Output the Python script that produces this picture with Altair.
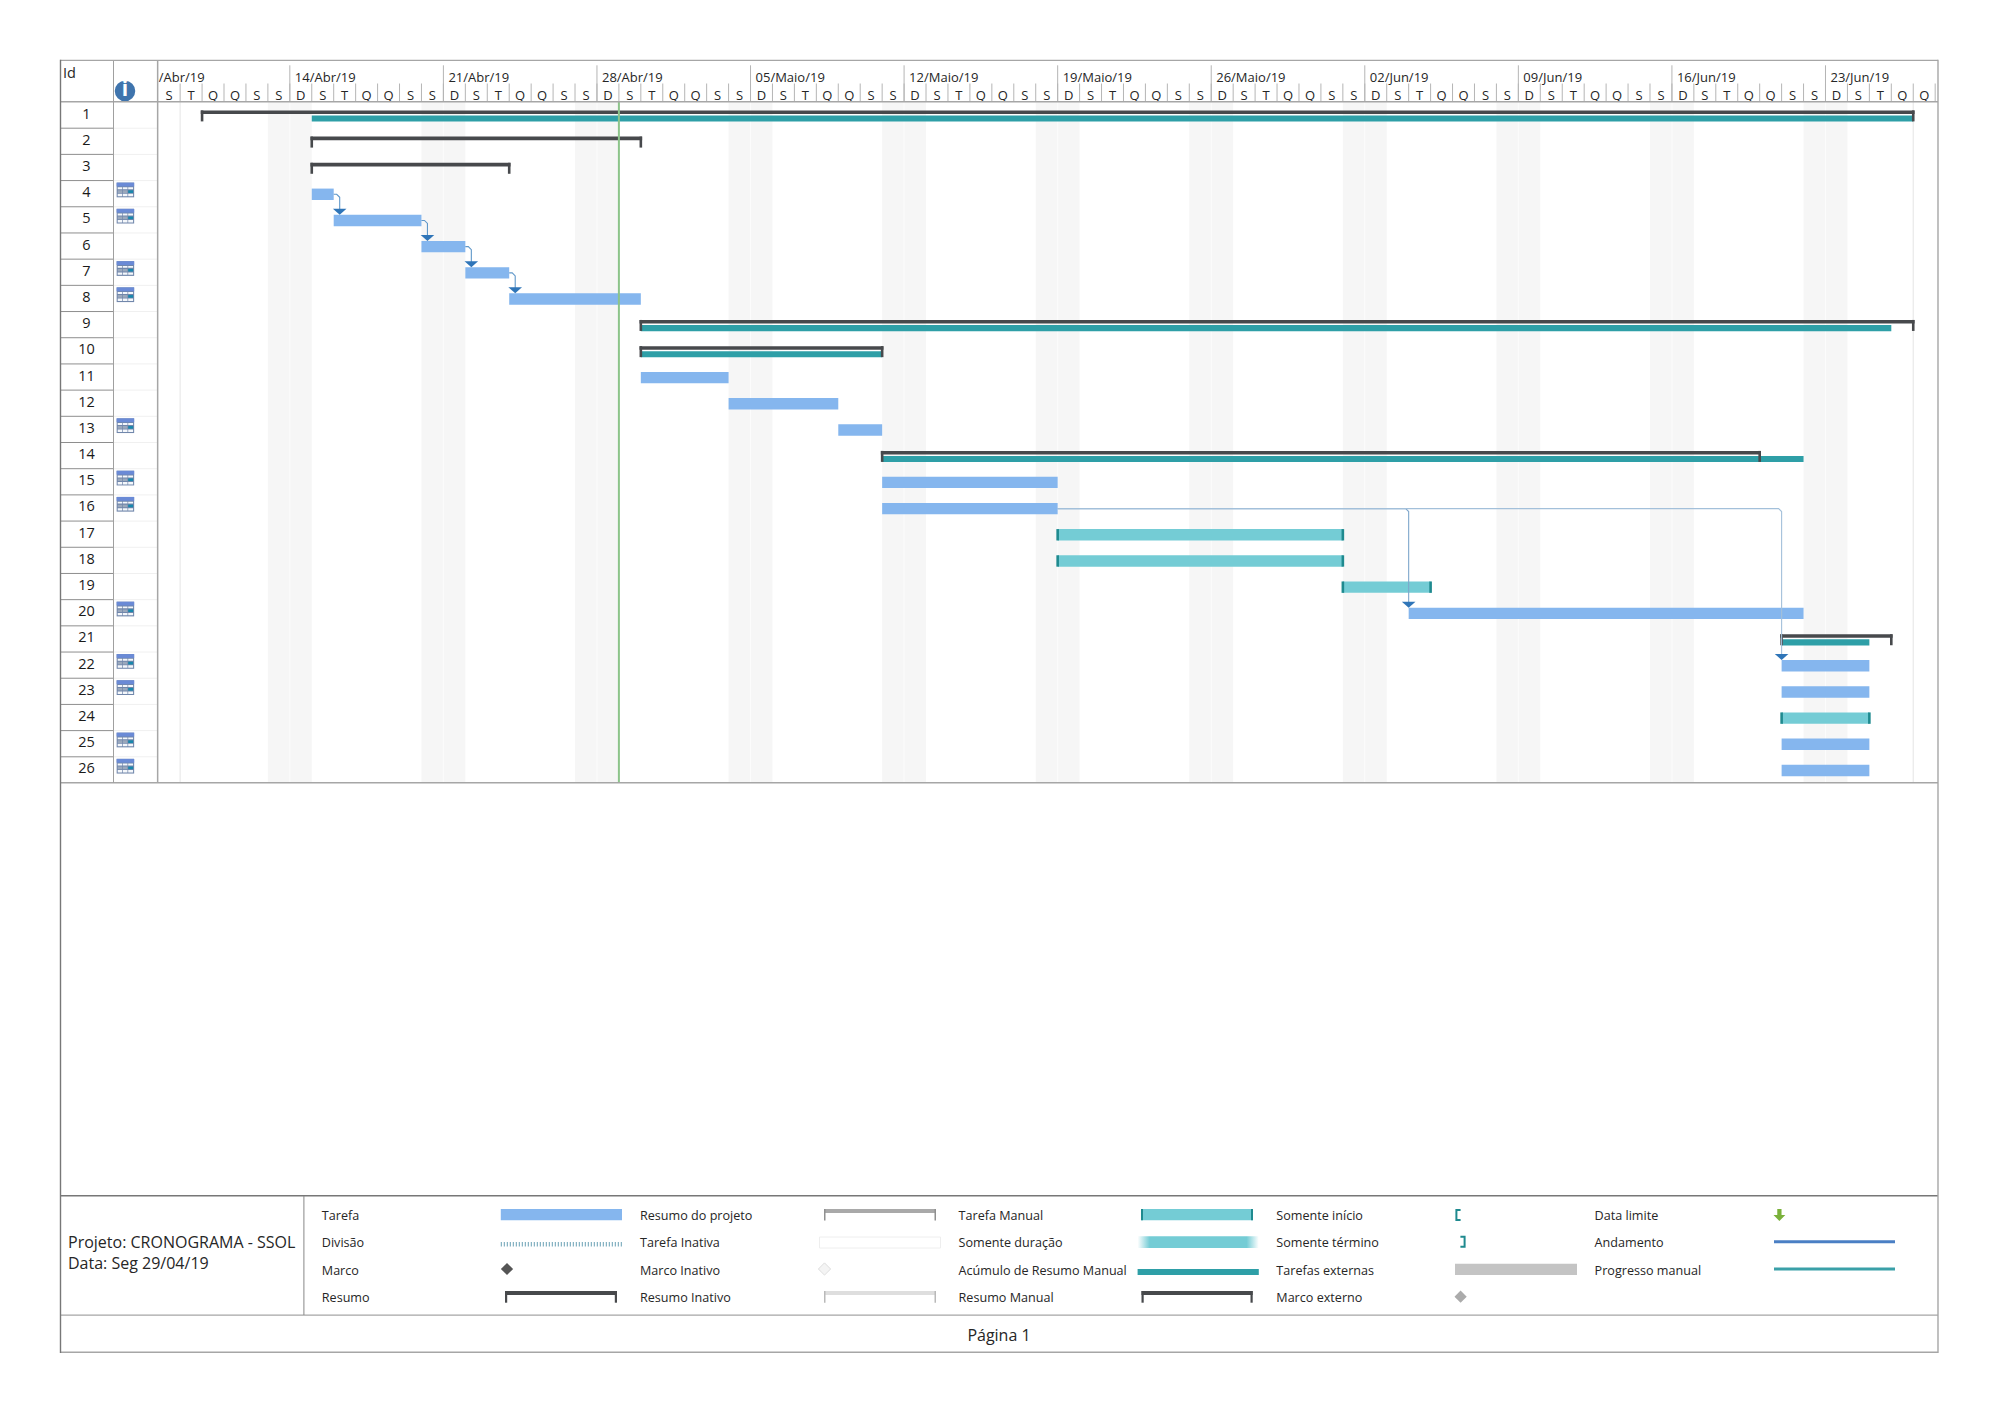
import altair as alt
import pandas as pd

FONT = "Open Sans"
OX, OY = 158.0, 102.0
W, H = 1780, 681
ROW_H = H / 26
DAY_PX = W / 81.1375

TASK, MANUAL, CAP, ROLL, DARK = "#85b6ee", "#74ccd5", "#1f8a8f", "#2e9fa7", "#47494c"
LINE = "#a6a6a6"
TXT = "#262626"

# --- schedule values --------------------------------------------------------
summary_rows = [1, 2, 3, 9, 10, 14, 21]
summary_start = ["2019-04-10", "2019-04-15", "2019-04-15", "2019-04-30", "2019-04-30", "2019-05-11", "2019-06-21"]
summary_end = ["2019-06-27", "2019-04-30", "2019-04-24", "2019-06-27", "2019-05-11", "2019-06-20", "2019-06-26"]

rollup_rows = [1, 9, 10, 14, 21]
rollup_start = ["2019-04-15", "2019-04-30", "2019-04-30", "2019-05-11", "2019-06-21"]
rollup_end = ["2019-06-27", "2019-06-26", "2019-05-11", "2019-06-22", "2019-06-25"]

task_rows = [4, 5, 6, 7, 8, 11, 12, 13, 15, 16, 20, 22, 23, 25, 26]
task_start = ["2019-04-15", "2019-04-16", "2019-04-20", "2019-04-22", "2019-04-24", "2019-04-30", "2019-05-04",
              "2019-05-09", "2019-05-11", "2019-05-11", "2019-06-04", "2019-06-21", "2019-06-21", "2019-06-21", "2019-06-21"]
task_end = ["2019-04-16", "2019-04-20", "2019-04-22", "2019-04-24", "2019-04-30", "2019-05-04", "2019-05-09",
            "2019-05-11", "2019-05-19", "2019-05-19", "2019-06-22", "2019-06-25", "2019-06-25", "2019-06-25", "2019-06-25"]

manual_rows = [17, 18, 19, 24]
manual_start = ["2019-05-19", "2019-05-19", "2019-06-01", "2019-06-21"]
manual_end = ["2019-06-01", "2019-06-01", "2019-06-05", "2019-06-25"]

icon_rows = [4, 5, 7, 8, 13, 15, 16, 20, 22, 23, 25, 26]
row_ids = list(range(1, 27))

# predecessor row, its finish, successor row, successor start, elbow offset in px
link_from = [4, 5, 6, 7, 16, 16]
link_finish = ["2019-04-16", "2019-04-20", "2019-04-22", "2019-04-24", "2019-05-19", "2019-05-19"]
link_to = [5, 6, 7, 8, 20, 22]
link_start = ["2019-04-16", "2019-04-20", "2019-04-22", "2019-04-24", "2019-06-04", "2019-06-21"]
link_color = ["#5f97c9", "#5f97c9", "#5f97c9", "#5f97c9", "#7ea6cc", "#a3c0da"]
link_shift = [6, 6, 6, 6, 0, 0]

week_starts = ["2019-04-14", "2019-04-21", "2019-04-28", "2019-05-05", "2019-05-12", "2019-05-19", "2019-05-26",
               "2019-06-02", "2019-06-09", "2019-06-16", "2019-06-23"]
week_labels = ["14/Abr/19", "21/Abr/19", "28/Abr/19", "05/Maio/19", "12/Maio/19", "19/Maio/19", "26/Maio/19",
               "02/Jun/19", "09/Jun/19", "16/Jun/19", "23/Jun/19"]
weekday_letters = ["S", "T", "Q", "Q", "S", "S", "D"]
saturdays = ["2019-04-13", "2019-04-20", "2019-04-27", "2019-05-04", "2019-05-11", "2019-05-18", "2019-05-25",
             "2019-06-01", "2019-06-08", "2019-06-15", "2019-06-22"]
project_bounds = ["2019-04-09", "2019-06-27"]
status_date = ["2019-04-29"]

legend_cols = [
    (321.8, ["Tarefa", "Divisão", "Marco", "Resumo"]),
    (640.0, ["Resumo do projeto", "Tarefa Inativa", "Marco Inativo", "Resumo Inativo"]),
    (958.6, ["Tarefa Manual", "Somente duração", "Acúmulo de Resumo Manual", "Resumo Manual"]),
    (1276.3, ["Somente início", "Somente término", "Tarefas externas", "Marco externo"]),
    (1594.6, ["Data limite", "Andamento", "Progresso manual"]),
]
legend_y = [1215.7, 1243.3, 1270.7, 1298.3]

# --- scales ------------------------------------------------------------------
x_scale = alt.Scale(domain=["2019-04-07T23:47:00", "2019-06-28T03:05:00"], range=[0, W])
y_scale = alt.Scale(domain=[1, 27], range=[0, H])


def X(f):
    return alt.X(f, type="temporal", scale=x_scale, axis=None)


def Y(f):
    return alt.Y(f, type="quantitative", scale=y_scale, axis=None)


def iso(d):
    return f"{d}T00:00:00"


def shift(d, px):
    return (pd.Timestamp(d) + pd.Timedelta(days=px / DAY_PX)).strftime("%Y-%m-%dT%H:%M:%S")


def rpos(row, px):
    return row + px / ROW_H


def spans(rows, starts, ends, y0, y1, pad0=0, pad1=0):
    return pd.DataFrame({
        "a": [shift(s, pad0) for s in starts],
        "b": [shift(e, pad1) for e in ends],
        "y0": [rpos(r, y0) for r in rows],
        "y1": [rpos(r, y1) for r in rows],
    })


def gantt_rect(df, color):
    return alt.Chart(df).mark_rect(color=color).encode(
        x=X("a"), x2=alt.X2("b"), y=Y("y0"), y2=alt.Y2("y1"))


def px_rect(x0, x1, y0, y1, color, **kw):
    return alt.Chart().mark_rect(color=color, **kw).encode(
        x=alt.value(x0 - OX), x2=alt.value(x1 - OX), y=alt.value(y0 - OY), y2=alt.value(y1 - OY))


def px_text(x, y, text, size=12.5, align="left", color=TXT, **kw):
    return alt.Chart(pd.DataFrame({"t": [text]})).mark_text(
        font=FONT, fontSize=size, align=align, baseline="middle", color=color, **kw
    ).encode(x=alt.value(x - OX), y=alt.value(y - OY), text="t:N")


def px_shape(x, y, path, size, **kw):
    return alt.Chart().mark_point(shape=path, size=size, opacity=1, **kw).encode(
        x=alt.value(x - OX), y=alt.value(y - OY))


layers = []

# weekend shading
sat_df = pd.DataFrame({"a": [iso(d) for d in saturdays],
                       "b": [shift(d, 2 * DAY_PX) for d in saturdays],
                       "y0": [1] * len(saturdays), "y1": [27] * len(saturdays)})
layers.append(gantt_rect(sat_df, "#f6f6f6"))
sun_df = pd.DataFrame({"d": [shift(d, DAY_PX) for d in saturdays]})
layers.append(alt.Chart(sun_df).mark_rule(color="#fcfcfc", strokeWidth=1).encode(
    x=X("d"), y=alt.value(0), y2=alt.value(H)))

# project start/finish guides
layers.append(alt.Chart(pd.DataFrame({"d": [iso(d) for d in project_bounds]})).mark_rule(
    color="#e9e9e9", strokeWidth=1.2).encode(x=X("d"), y=alt.value(0), y2=alt.value(H)))

# --- header -------------------------------------------------------------------
day_dates = pd.date_range("2019-04-08", "2019-06-27")
day_df = pd.DataFrame({
    "mid": [(d + pd.Timedelta(hours=12)).strftime("%Y-%m-%dT%H:%M:%S") for d in day_dates],
    "start": [d.strftime("%Y-%m-%dT00:00:00") for d in day_dates],
    "letter": [weekday_letters[i % 7] for i in range(len(day_dates))],
})
layers.append(alt.Chart(day_df.iloc[1:]).mark_rule(
    color="#b5b5b5", strokeWidth=1).encode(x=X("start"), y=alt.value(83.5 - OY), y2=alt.value(0)))
tail = pd.DataFrame({"d": ["2019-06-28T00:00:00"]})
layers.append(alt.Chart(tail).mark_rule(color="#b5b5b5", strokeWidth=1).encode(
    x=X("d"), y=alt.value(83.5 - OY), y2=alt.value(0)))
layers.append(alt.Chart(day_df).mark_text(font=FONT, fontSize=13, color=TXT, baseline="middle").encode(
    x=X("mid"), y=alt.value(95.5 - OY), text="letter:N"))
week_df = pd.DataFrame({"d": [iso(d) for d in week_starts], "t": week_labels})
layers.append(alt.Chart(week_df).mark_rule(color="#b5b5b5", strokeWidth=1).encode(
    x=X("d"), y=alt.value(65.3 - OY), y2=alt.value(0)))
layers.append(alt.Chart(week_df).mark_text(font=FONT, fontSize=13, color=TXT, align="left", baseline="middle", dx=5).encode(
    x=X("d"), y=alt.value(77.6 - OY), text="t:N"))
layers.append(px_text(158.8, 77.6, "/Abr/19", size=13))
layers.append(px_text(63, 73.5, "Id", size=14.5))

# --- rows table ---------------------------------------------------------------
grid_df = pd.DataFrame({"y": [r + 1 for r in row_ids[:-1]]})
layers.append(alt.Chart(grid_df).mark_rule(color="#f0f0f0", strokeWidth=1).encode(
    x=alt.value(113.4 - OX), x2=alt.value(158 - OX), y=Y("y")))
layers.append(alt.Chart(grid_df).mark_rule(color="#8e8e8e", strokeWidth=1).encode(
    x=alt.value(60.4 - OX), x2=alt.value(113.4 - OX), y=Y("y")))
num_df = pd.DataFrame({"y": [r + 0.5 for r in row_ids], "t": [str(r) for r in row_ids]})
layers.append(alt.Chart(num_df).mark_text(font=FONT, fontSize=14.5, color="#1a1a1a", baseline="middle", dy=-0.5).encode(
    x=alt.value(86.5 - OX), y=Y("y"), text="t:N"))

# calendar icons: frame, header band, light rows, dark row, teal cell
icon_df = pd.DataFrame({"y": [rpos(r, 9.4) for r in icon_rows]})
IC_X = alt.value(125.4 - OX)
ic_body = "M-1,-0.84 L1,-0.84 L1,0.84 L-1,0.84 Z"
ic_head = "M-1,-0.84 L1,-0.84 L1,-0.4 L-1,-0.4 Z"
ic_light = ("M-0.88,-0.3 L-0.36,-0.3 L-0.36,-0.08 L-0.88,-0.08 Z M-0.28,-0.3 L0.24,-0.3 L0.24,-0.08 L-0.28,-0.08 Z "
            "M0.32,-0.3 L0.88,-0.3 L0.88,-0.08 L0.32,-0.08 Z "
            "M-0.88,0.44 L-0.36,0.44 L-0.36,0.72 L-0.88,0.72 Z M-0.28,0.44 L0.24,0.44 L0.24,0.72 L-0.28,0.72 Z "
            "M0.32,0.44 L0.88,0.44 L0.88,0.72 L0.32,0.72 Z")
ic_gap = "M-1,0.02 L1,0.02 L1,0.06 L-1,0.06 Z"
ic_mid = "M-0.88,0.04 L-0.36,0.04 L-0.36,0.34 L-0.88,0.34 Z M-0.28,0.04 L0.24,0.04 L0.24,0.34 L-0.28,0.34 Z"
ic_teal = "M0.32,0.04 L0.88,0.04 L0.88,0.34 L0.32,0.34 Z"
for path, col in [(ic_body, "#7187ab"), (ic_head, "#6a8ad6"), (ic_light, "#f4f7fb"),
                  (ic_mid, "#9aa8bc"), (ic_teal, "#1788ad")]:
    layers.append(alt.Chart(icon_df).mark_point(shape=path, size=306, filled=True, color=col, opacity=1, strokeWidth=0).encode(
        x=IC_X, y=Y("y")))

# info icon
layers.append(px_shape(125, 91, "circle", 420, filled=True, color="#3f74ad", strokeWidth=0))
layers.append(px_text(125, 90, "i", size=21, align="center", color="#ffffff", fontWeight="bold"))

# --- bars ---------------------------------------------------------------------
layers.append(gantt_rect(spans(task_rows, task_start, task_end, 8, 19.4), TASK))
layers.append(gantt_rect(spans(manual_rows, manual_start, manual_end, 8, 19.4), MANUAL))
layers.append(gantt_rect(spans(manual_rows, manual_start, manual_start, 8, 19.4, -1.3, 1.3), CAP))
layers.append(gantt_rect(spans(manual_rows, manual_end, manual_end, 8, 19.4, -1.3, 1.3), CAP))
layers.append(gantt_rect(spans(rollup_rows, rollup_start, rollup_end, 13.4, 19.6), ROLL))
layers.append(gantt_rect(spans(summary_rows, summary_start, summary_end, 8.4, 12, -1.3, 1.3), DARK))
layers.append(gantt_rect(spans(summary_rows, summary_start, summary_start, 8.4, 19.4, -1.3, 1.3), DARK))
layers.append(gantt_rect(spans(summary_rows, summary_end, summary_end, 8.4, 19.4, -1.3, 1.3), DARK))

# status date line over the bars
layers.append(alt.Chart(pd.DataFrame({"d": [iso(d) for d in status_date]})).mark_rule(
    color="#8cc48a", strokeWidth=2).encode(x=X("d"), y=alt.value(0), y2=alt.value(H)))

# --- links --------------------------------------------------------------------
ARROW = "M-1,-0.44 L1,-0.44 L0,0.44 Z"
arrow_rows = []
for i, (r0, f, r1, s, c, sh) in enumerate(zip(link_from, link_finish, link_to, link_start, link_color, link_shift)):
    y0 = rpos(r0, 13.7)
    yend = rpos(r1, 6)
    elbow = shift(s, sh)
    pts = pd.DataFrame({
        "x": [iso(f), shift(s, sh - 3), elbow, elbow],
        "y": [y0, y0, y0 + 3 / ROW_H, yend],
        "o": [0, 1, 2, 3],
    })
    layers.append(alt.Chart(pts).mark_line(color=c, strokeWidth=1.1).encode(
        x=X("x"), y=Y("y"), order="o:Q"))
    arrow_rows.append({"x": elbow, "y": rpos(r1, 5)})
layers.append(alt.Chart(pd.DataFrame(arrow_rows)).mark_point(
    shape=ARROW, size=185, filled=True, color="#2f75b8", opacity=1, strokeWidth=0).encode(x=X("x"), y=Y("y")))

# --- page frame ---------------------------------------------------------------
FX0, FX1 = 60.4, 1938.0
layers += [
    px_rect(FX0, FX1, 59.8, 61.0, LINE),
    px_rect(FX0, FX1, 100.9, 102.6, LINE),
    px_rect(FX0, FX1, 782.0, 783.6, LINE),
    px_rect(FX0, FX1, 1195.0, 1196.4, "#777777"),
    px_rect(FX0, FX1, 1314.4, 1315.8, LINE),
    px_rect(FX0, FX1, 1351.6, 1353.0, LINE),
    px_rect(59.8, 61.2, 59.8, 1353.0, "#777777"),
    px_rect(1937.3, 1938.7, 59.8, 1353.0, LINE),
    px_rect(113.0, 114.0, 61.0, 783.0, "#a0a0a0"),
    px_rect(156.9, 158.4, 61.0, 783.0, LINE),
    px_rect(303.4, 304.4, 1196.0, 1315.0, "#888888"),
]

# --- legend and footer --------------------------------------------------------
layers.append(px_text(68, 1243, "Projeto: CRONOGRAMA - SSOL", size=16))
layers.append(px_text(68, 1264, "Data: Seg 29/04/19", size=16))
layers.append(px_text(999, 1335.5, "Página 1", size=16, align="center"))
for cx, labels in legend_cols:
    for y, lab in zip(legend_y, labels):
        layers.append(px_text(cx, y, lab, size=12.6))


def bracket(x0, x1, y0, y1, tick_bottom, bar_col, tick_col, tick_w):
    return [px_rect(x0, x1, y0, y1, bar_col),
            px_rect(x0, x0 + tick_w, y0, tick_bottom, tick_col),
            px_rect(x1 - tick_w, x1, y0, tick_bottom, tick_col)]


DIAMOND = "M0,-1 L1,0 L0,1 L-1,0 Z"
layers += [px_rect(500.8, 622, 1209, 1220.3, TASK)]
layers.append(alt.Chart().mark_rule(color="#6aa0b4", strokeWidth=4.5, strokeDash=[1, 2]).encode(
    x=alt.value(500.8 - OX), x2=alt.value(622 - OX), y=alt.value(1244.2 - OY)))
layers.append(px_shape(507, 1269, DIAMOND, 150, filled=True, color="#555555", strokeWidth=0))
layers += bracket(505, 617, 1291, 1295, 1302.7, DARK, DARK, 2.2)
layers += bracket(824, 936, 1209, 1213, 1220.5, "#a9a9a9", "#909090", 1.5)
layers.append(px_rect(819.5, 940.5, 1237, 1248, "#ffffff", stroke="#eeeeee", strokeWidth=1))
layers.append(px_shape(824.5, 1269, DIAMOND, 150, filled=True, fill="#f4f4f4", stroke="#dddddd", strokeWidth=1))
layers += bracket(824, 936, 1291, 1295, 1302.7, "#dedede", "#b9b9b9", 1.5)

layers.append(px_rect(1141, 1253, 1209, 1220.3, MANUAL))
layers.append(px_rect(1141, 1143, 1209, 1220.3, CAP))
layers.append(px_rect(1251, 1253, 1209, 1220.3, CAP))
fade = alt.Gradient(gradient="linear", x1=0, x2=1, y1=0, y2=0, stops=[
    alt.GradientStop(color="#ffffff", offset=0), alt.GradientStop(color=MANUAL, offset=0.1),
    alt.GradientStop(color=MANUAL, offset=0.9), alt.GradientStop(color="#ffffff", offset=1)])
layers.append(px_rect(1137.6, 1258.8, 1236.3, 1248, fade))
layers.append(px_rect(1137.6, 1258.8, 1269, 1275, ROLL))
layers += bracket(1141.5, 1252.7, 1291, 1295, 1302.7, DARK, DARK, 2.2)

START_ONLY = "M0.42,-1 L-0.42,-1 L-0.42,1 L0.42,1"
END_ONLY = "M-0.42,-1 L0.42,-1 L0.42,1 L-0.42,1"
layers.append(px_shape(1458.5, 1215, START_ONLY, 100, filled=False, stroke=CAP, strokeWidth=2))
layers.append(px_shape(1462.5, 1241.8, END_ONLY, 100, filled=False, stroke=CAP, strokeWidth=2))
layers.append(px_rect(1455, 1577, 1263.7, 1275, "#c4c4c4"))
layers.append(px_shape(1460.6, 1296.7, DIAMOND, 150, filled=True, color="#ababab", strokeWidth=0))

DEADLINE = "M-0.36,-1 L0.36,-1 L0.36,0 L1,0 L0,1 L-1,0 L-0.36,0 Z"
layers.append(px_shape(1779.4, 1215, DEADLINE, 140, filled=True, color="#7ab13a", strokeWidth=0))
layers.append(px_rect(1774, 1895, 1240.2, 1243.2, "#4a7fc4"))
layers.append(px_rect(1774, 1895, 1267.5, 1270.5, "#3aa0a8"))

chart = alt.layer(*layers).properties(
    width=W, height=H,
    padding={"left": OX - 8, "top": OY - 8, "right": 1983 - (OX - 8) - W, "bottom": 1398 - (OY - 8) - H},
    autosize=alt.AutoSizeParams(type="none"),
    background="white",
).configure_view(stroke=None, clip=False)

chart.save("out.html", embed_options={"renderer": "svg", "actions": False})
